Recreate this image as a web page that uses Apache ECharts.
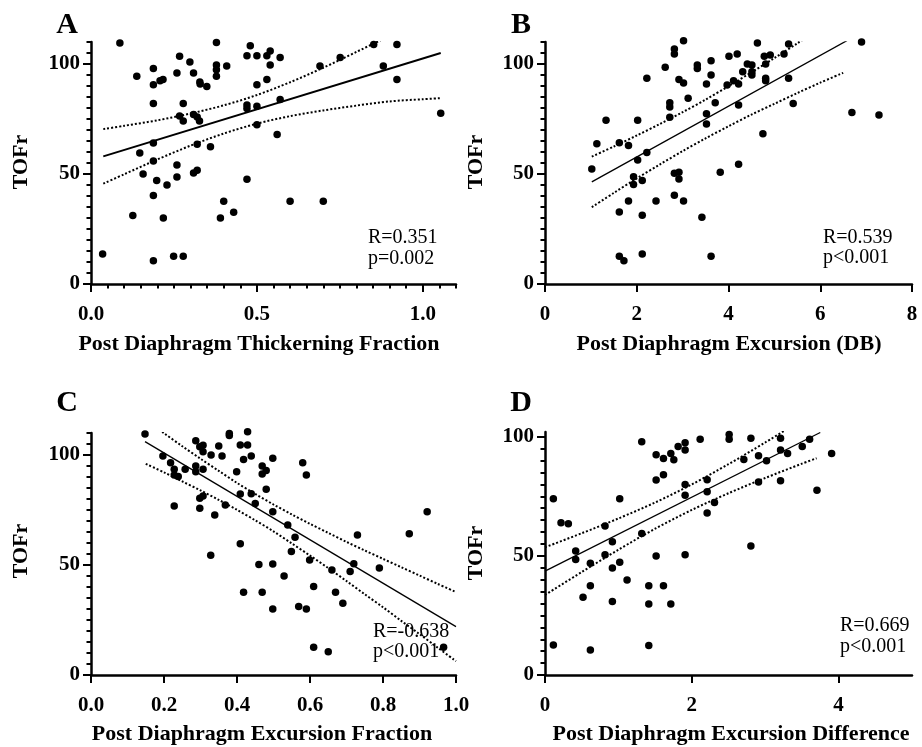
<!DOCTYPE html>
<html><head><meta charset="utf-8">
<script src="https://cdn.jsdelivr.net/npm/echarts@6/dist/echarts.min.js"></script>
<style>html,body{margin:0;padding:0;background:#fff}#c{width:922px;height:747px}</style>
</head><body><div id="c"></div>
<script>
// ---------- data ----------
const pointsA = [[0.035,13.6],[0.087,109.5],[0.138,94.4],[0.126,31.1],[0.147,59.5],[0.157,50],[0.188,97.9],[0.188,90.6],[0.188,82],[0.188,64.1],[0.188,55.9],[0.198,47],[0.188,40.2],[0.188,10.6],[0.208,92.4],[0.217,92.9],[0.229,45],[0.218,30],[0.249,12.6],[0.278,12.6],[0.259,95.9],[0.267,103.5],[0.259,54.1],[0.259,48.6],[0.267,76.4],[0.278,82],[0.278,74.1],[0.298,100.9],[0.309,95.9],[0.328,91.8],[0.329,90.9],[0.349,89.8],[0.309,77],[0.32,75.9],[0.327,74.1],[0.32,63.5],[0.309,50.5],[0.32,51.7],[0.36,62.4],[0.378,109.8],[0.378,99.5],[0.378,97.4],[0.378,94.4],[0.409,99.1],[0.4,37.6],[0.39,30],[0.43,32.6],[0.47,103.8],[0.48,108.3],[0.5,103.8],[0.53,103.8],[0.54,105.9],[0.54,99.5],[0.57,102.9],[0.5,90.6],[0.53,92.9],[0.47,81.4],[0.47,79.8],[0.5,80.8],[0.57,83.9],[0.5,72.4],[0.561,67.9],[0.47,47.6],[0.6,37.6],[0.7,37.6],[0.69,99.1],[0.751,102.9],[0.852,108.9],[0.922,108.9],[0.881,99.1],[0.922,92.9],[1.054,77.6]];
const fitA = [[0.037,58],[1.054,105]];
const upperA = [[0.037,70.4],[0.1,71.9],[0.2,74.4],[0.3,77.5],[0.4,81.2],[0.5,85.9],[0.6,91.7],[0.7,98.3],[0.8,105.5],[0.9,112.8]];
const lowerA = [[0.037,45.6],[0.1,49.9],[0.2,56.6],[0.3,62.9],[0.4,68.4],[0.5,72.9],[0.6,76.3],[0.7,78.9],[0.8,81.1],[0.9,83.0],[1.0,84.0],[1.054,84.5]];

const pointsB = [[1.02,52.3],[1.13,63.8],[1.33,74.4],[1.62,64.2],[1.62,32.7],[1.62,12.6],[1.72,10.6],[1.82,62.9],[1.82,37.7],[1.93,48.8],[1.93,45.2],[2.02,74.4],[2.02,56.4],[2.12,47.1],[2.12,31.2],[2.12,13.6],[2.22,93.5],[2.22,59.8],[2.42,37.7],[2.62,98.5],[2.72,82.4],[2.72,80.5],[2.72,75.8],[2.82,106.8],[2.82,104.5],[2.82,50.3],[2.92,50.8],[2.92,47.7],[2.82,40.3],[2.92,93],[3.02,91.4],[3.02,110.6],[3.02,37.7],[3.12,84.4],[3.32,99.5],[3.32,98],[3.42,30.3],[3.52,90.9],[3.52,77.4],[3.52,72.7],[3.62,101.5],[3.62,95],[3.62,12.6],[3.71,82.4],[3.82,50.8],[3.97,90.5],[4.01,103.5],[4.11,92.4],[4.19,104.5],[4.22,90.9],[4.22,81.4],[4.22,54.4],[4.31,96.5],[4.41,100],[4.51,99.5],[4.51,96.5],[4.51,95],[4.63,109.5],[4.75,68.3],[4.78,103.5],[4.81,100],[4.81,93.5],[4.81,92.4],[4.91,104.1],[5.21,104.5],[5.31,109.1],[5.31,93.5],[5.41,82],[6.69,77.9],[6.9,110],[7.28,76.8]];
const fitB = [[1.02,46.4],[6.58,110.6]];
const upperB = [[1.02,57.9],[1.5,62.5],[2.0,67.5],[2.5,72.7],[3.0,78.1],[3.5,83.8],[4.0,89.9],[4.5,96.2],[5.0,102.7],[5.5,109.4],[6.0,116.3]];
const lowerB = [[1.02,34.9],[1.5,41.4],[2.0,48.0],[2.5,54.3],[3.0,60.4],[3.5,66.2],[4.0,71.7],[4.5,77.0],[5.0,81.9],[5.5,86.8],[6.0,91.5],[6.5,96.0]];

const pointsC = [[0.148,109.5],[0.197,99.5],[0.218,96.5],[0.228,93.5],[0.228,90.9],[0.239,90.2],[0.228,76.8],[0.258,93.5],[0.287,106.5],[0.298,103.8],[0.307,104.4],[0.307,101.5],[0.287,95],[0.287,92.4],[0.307,93.5],[0.329,100],[0.35,104.1],[0.359,99.5],[0.298,80.3],[0.307,81.4],[0.298,75.8],[0.339,72.7],[0.328,54.4],[0.368,77.3],[0.379,109.8],[0.379,108.9],[0.399,92.4],[0.409,104.5],[0.418,98],[0.429,110.6],[0.429,104.5],[0.439,99.5],[0.409,82.3],[0.439,82.4],[0.45,77.9],[0.409,59.7],[0.418,37.6],[0.46,50.2],[0.469,95],[0.469,91.4],[0.48,92.9],[0.48,84.4],[0.498,98.5],[0.469,37.6],[0.498,74.2],[0.498,50.5],[0.498,30],[0.529,45],[0.539,68.2],[0.559,62.6],[0.549,56.1],[0.569,31.1],[0.58,96.5],[0.59,90.9],[0.59,30],[0.599,52.3],[0.61,40.2],[0.61,12.6],[0.65,10.6],[0.66,47.7],[0.67,37.6],[0.69,32.6],[0.71,47],[0.72,50.6],[0.73,63.6],[0.79,48.6],[0.872,64.2],[0.921,74.2],[0.966,12.6]];
const fitC = [[0.148,106.1],[1.0,22]];
const upperC = [[0.15,115.9],[0.2,109.9],[0.25,104.0],[0.3,98.3],[0.35,92.8],[0.4,87.3],[0.45,82.3],[0.5,77.5],[0.55,73.0],[0.6,68.7],[0.65,64.6],[0.7,60.5],[0.75,56.6],[0.8,52.8],[0.85,49.0],[0.9,45.2],[0.95,41.4],[1.0,37.7]];
const lowerC = [[0.15,96.0],[0.2,92.1],[0.25,88.0],[0.3,83.9],[0.35,79.6],[0.4,75.1],[0.45,70.3],[0.5,65.3],[0.55,59.8],[0.6,54.3],[0.65,48.6],[0.7,42.7],[0.75,36.7],[0.8,30.8],[0.85,24.6],[0.9,18.6],[0.95,12.4],[1.0,6.3]];

const pointsD = [[0.114,74],[0.114,12.6],[0.218,63.9],[0.318,63.5],[0.418,52],[0.418,48.5],[0.518,32.6],[0.618,46.9],[0.618,37.5],[0.618,10.5],[0.818,62.5],[0.818,50.5],[0.918,55.9],[0.918,44.9],[0.918,30.9],[1.018,74],[1.018,47.3],[1.118,39.9],[1.318,97.9],[1.318,59.4],[1.414,37.5],[1.414,29.8],[1.414,12.4],[1.514,92.4],[1.514,81.8],[1.514,49.9],[1.614,90.9],[1.614,84.1],[1.614,37.5],[1.714,93],[1.714,29.8],[1.755,90.3],[1.814,95.9],[1.909,97.5],[1.909,94.4],[1.909,80],[1.909,75.5],[1.909,50.5],[2.114,99],[2.209,82],[2.209,76.9],[2.209,68],[2.309,72.4],[2.509,101],[2.509,99],[2.709,90.5],[2.805,99.4],[2.805,54.1],[2.909,92],[2.909,81],[3.018,89.9],[3.209,99.4],[3.209,94.4],[3.209,81.5],[3.305,93],[3.505,95.9],[3.605,99],[3.705,77.5],[3.905,93]];
const fitD = [[0,43.6],[3.75,101.8]];
const upperD = [[0,53.6],[0.5,59.5],[1.0,65.7],[1.5,72.4],[2.0,80.0],[2.5,88.5],[3.0,97.6],[3.5,107.1]];
const lowerD = [[0,33.6],[0.5,43.2],[1.0,52.6],[1.5,61.4],[2.0,69.3],[2.5,76.3],[3.0,82.7],[3.5,88.7],[3.7,91.0]];

// ---------- ticks & labels ----------
const yTicks = [0, 50, 100];
const yMinorTicks = [0,5,10,15,20,25,30,35,40,45,50,55,60,65,70,75,80,85,90,95,100,105,110];
const yMinorTicksD = [0,5,10,15,20,25,30,35,40,45,50,55,60,65,70,75,80,85,90,95,100];
const xTicksA = [0, 0.5, 1.0];
const xMinorTicksA = [0,0.05,0.1,0.15,0.2,0.25,0.3,0.35,0.4,0.45,0.5,0.55,0.6,0.65,0.7,0.75,0.8,0.85,0.9,0.95,1.0,1.05,1.1];
const xTicksB = [0, 2, 4, 6, 8];
const xTicksC = [0, 0.2, 0.4, 0.6, 0.8, 1.0];
const xTicksD = [0, 2, 4];

const letters = ['A', 'B', 'C', 'D'];
const xTitles = ['Post Diaphragm Thickerning Fraction', 'Post Diaphragm Excursion (DB)', 'Post Diaphragm Excursion Fraction', 'Post Diaphragm Excursion Difference'];
const yTitle = 'TOFr';
const statR = ['R=0.351', 'R=0.539', 'R=-0.638', 'R=0.669'];
const statP = ['p=0.002', 'p<0.001', 'p<0.001', 'p<0.001'];

// ---------- layout ----------
const FONT = "'Liberation Serif','Times New Roman',serif";
const panels = [
  {grid:{left:91,top:42,width:365,height:242}, xMax:1.1, yMax:110, xTicks:xTicksA, xMinor:xMinorTicksA, yMinor:yMinorTicks, fmt:v=>v.toFixed(1), pts:pointsA, fit:fitA, up:upperA, lo:lowerA, fw:2,
   letter:[67,25], xt:[259,344], yt:[21,162], st:[368,238,259]},
  {grid:{left:545,top:42,width:367,height:242}, xMax:8, yMax:110, xTicks:xTicksB, xMinor:null, yMinor:yMinorTicks, fmt:v=>String(v), pts:pointsB, fit:fitB, up:upperB, lo:lowerB, fw:1.3,
   letter:[521,25], xt:[729,344], yt:[476,162], st:[823,238,258]},
  {grid:{left:91,top:433,width:365,height:242}, xMax:1.0, yMax:110, xTicks:xTicksC, xMinor:null, yMinor:yMinorTicks, fmt:v=>v.toFixed(1), pts:pointsC, fit:fitC, up:upperC, lo:lowerC, fw:1.3,
   letter:[67,403], xt:[262,734], yt:[21,551], st:[373,632,652]},
  {grid:{left:545,top:432,width:367,height:243}, xMax:5, yMax:102, xTicks:xTicksD, xMinor:null, yMinor:yMinorTicksD, fmt:v=>String(v), pts:pointsD, fit:fitD, up:upperD, lo:lowerD, fw:1.3,
   letter:[521,403], xt:[731,734], yt:[476,553], st:[840,626,647]}
];

const grids = [], xAxes = [], yAxes = [], series = [], graphics = [];
const blk = '#000';
panels.forEach((p, i) => {
  grids.push(p.grid);
  const xMain = xAxes.length;
  xAxes.push({gridIndex:i, type:'value', min:0, max:p.xMax, position:'bottom',
    axisLine:{show:true, onZero:false, lineStyle:{color:blk, width:2.5}},
    axisTick:{show:true, customValues:p.xTicks, length:8, lineStyle:{color:blk, width:2}},
    axisLabel:{show:true, customValues:p.xTicks, formatter:p.fmt, margin:20, color:blk, fontFamily:FONT, fontWeight:'bold', fontSize:21},
    splitLine:{show:false}});
  if (p.xMinor) {
    xAxes.push({gridIndex:i, type:'value', min:0, max:p.xMax, position:'bottom',
      axisLine:{show:false}, axisTick:{show:true, customValues:p.xMinor, length:4.5, lineStyle:{color:blk, width:2}},
      axisLabel:{show:false}, splitLine:{show:false}});
  }
  const yMain = yAxes.length;
  yAxes.push({gridIndex:i, type:'value', min:0, max:p.yMax, position:'left',
    axisLine:{show:true, onZero:false, lineStyle:{color:blk, width:2.5}},
    axisTick:{show:true, customValues:yTicks, length:8, lineStyle:{color:blk, width:2}},
    axisLabel:{show:true, customValues:yTicks, margin:11, color:blk, fontFamily:FONT, fontWeight:'bold', fontSize:21},
    splitLine:{show:false}});
  yAxes.push({gridIndex:i, type:'value', min:0, max:p.yMax, position:'left',
    axisLine:{show:false}, axisTick:{show:true, customValues:p.yMinor, length:4.5, lineStyle:{color:blk, width:2}},
    axisLabel:{show:false}, splitLine:{show:false}});

  series.push({type:'scatter', xAxisIndex:xMain, yAxisIndex:yMain, data:p.pts, symbol:'circle', symbolSize:7.5, itemStyle:{color:blk, opacity:1}, clip:false, z:5});
  series.push({type:'line', xAxisIndex:xMain, yAxisIndex:yMain, data:p.fit, symbol:'none', lineStyle:{color:blk, width:p.fw}, clip:true, z:4});
  [p.up, p.lo].forEach(d => series.push({type:'line', xAxisIndex:xMain, yAxisIndex:yMain, data:d, symbol:'none', smooth:0.3,
    lineStyle:{color:blk, width:2, type:'dotted'}, clip:true, z:4}));

  graphics.push({type:'text', x:p.letter[0], y:p.letter[1], style:{text:letters[i], font:"bold 30px " + FONT, fill:blk, textAlign:'center', textVerticalAlign:'middle'}});
  graphics.push({type:'text', x:p.xt[0], y:p.xt[1], style:{text:xTitles[i], font:"bold 22px " + FONT, fill:blk, textAlign:'center', textVerticalAlign:'middle'}});
  graphics.push({type:'text', x:p.yt[0], y:p.yt[1], rotation:Math.PI/2, style:{text:yTitle, font:"bold 22px " + FONT, fill:blk, textAlign:'center', textVerticalAlign:'middle'}});
  graphics.push({type:'text', x:p.st[0], y:p.st[1], style:{text:statR[i], font:"20px " + FONT, fill:blk, textAlign:'left', textVerticalAlign:'middle'}});
  graphics.push({type:'text', x:p.st[0], y:p.st[2], style:{text:statP[i], font:"20px " + FONT, fill:blk, textAlign:'left', textVerticalAlign:'middle'}});
});

const chart = echarts.init(document.getElementById('c'), null, {renderer:'canvas'});
chart.setOption({
  backgroundColor:'#fff', animation:false,
  grid:grids, xAxis:xAxes, yAxis:yAxes, series:series, graphic:graphics
});
</script></body></html>
